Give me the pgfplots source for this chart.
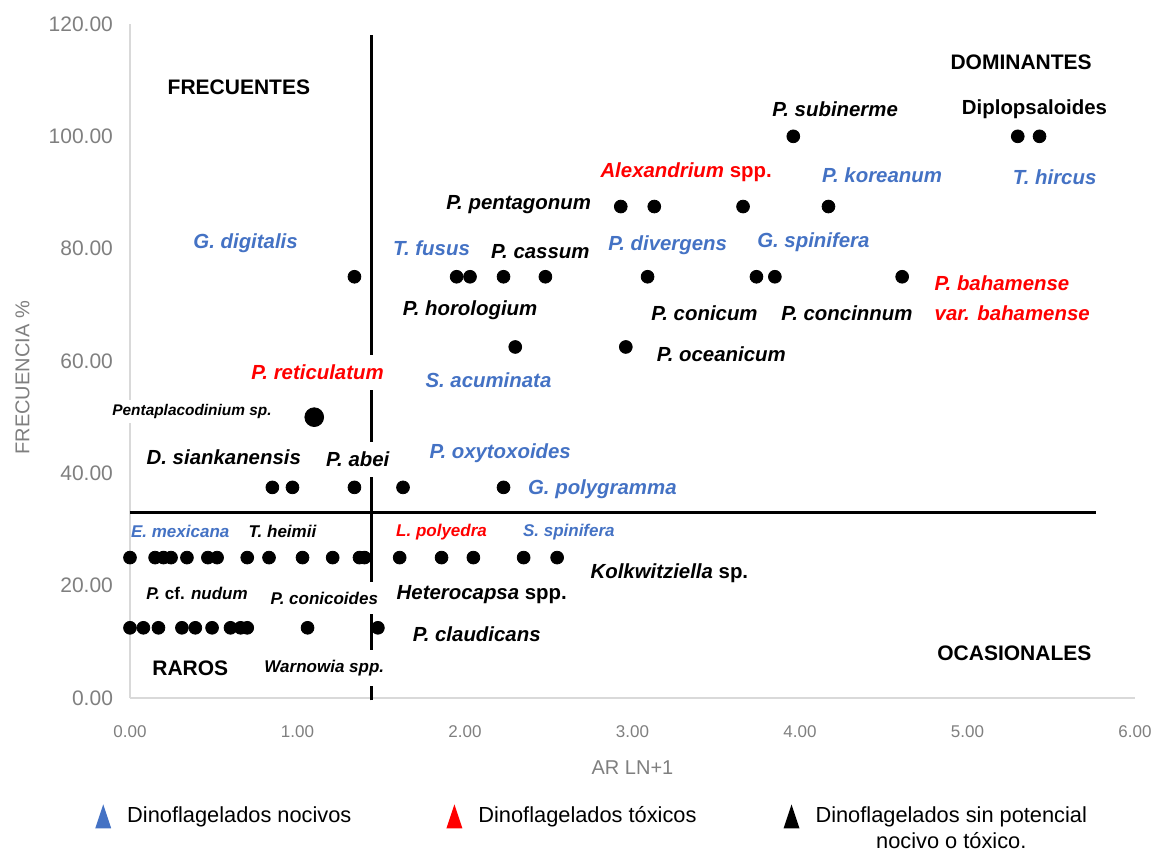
\documentclass[border=0pt]{standalone}
\usepackage{pgfplots}
\pgfplotsset{compat=1.18}
\usepackage{fontspec}
\setmainfont{Liberation Sans}

\definecolor{nocivo}{HTML}{4472C4}
\definecolor{toxico}{HTML}{FF0000}
\definecolor{ejes}{HTML}{D9D9D9}
\definecolor{rotulo}{HTML}{7F7F7F}

\tikzset{
  lab/.style={font=\fontsize{10.2}{12}\selectfont\bfseries\itshape, inner sep=1pt},
  chico/.style={font=\fontsize{8.5}{10}\selectfont\bfseries\itshape, inner sep=1pt},
  titulo/.style={font=\fontsize{10.5}{12}\selectfont\bfseries, inner sep=1pt},
  tapa/.style={fill=white, inner xsep=2pt, inner ysep=5pt},
}
% triangulo de la leyenda
\newcommand{\triang}[1]{\addlegendimage{legend image code/.code={
    \fill[#1, draw=none] (0pt,-6pt) -- (8pt,-6pt) -- (4pt,6pt) -- cycle;
    \path[draw=none, fill=none] (0pt,0pt) -- (14pt,0pt);}}}

\begin{document}
\begin{tikzpicture}
\useasboundingbox (-65pt,-77pt) rectangle (514.5pt,349pt);
\begin{axis}[
    scale only axis,
    width=502.5pt, height=337pt,
    at={(0,0)}, anchor=south west,
    xmin=0, xmax=6,
    ymin=0, ymax=120,
    xtick={0,1,2,3,4,5,6},
    ytick={0,20,40,60,80,100,120},
    axis lines=left,
    axis line style={draw=ejes, line width=0.8pt, -},
    major tick length=0pt,
    /pgf/number format/fixed,
    /pgf/number format/fixed zerofill,
    /pgf/number format/precision=2,
    /pgf/number format/assume math mode=true,
    yticklabel style={font=\fontsize{10.5}{12}\selectfont, text=rotulo, xshift=-5pt},
    xticklabel style={font=\fontsize{8.5}{10}\selectfont, text=rotulo, yshift=-10.5pt},
    xlabel={AR LN+1},
    ylabel={FRECUENCIA \%},
    every axis x label/.style={at={(axis description cs:0.5,-0.104)}, anchor=center,
        font=\fontsize{10}{12}\selectfont, text=rotulo},
    every axis y label/.style={at={(axis description cs:-0.107,0.475)}, rotate=90, anchor=center,
        font=\fontsize{10}{12}\selectfont, text=rotulo},
    clip=false,
    legend columns=3,
    legend style={at={(axis description cs:-0.035,-0.155)}, anchor=north west,
        draw=none, fill=none, inner sep=0pt,
        font=\fontsize{10.9}{13}\selectfont,
        /tikz/column 2/.style={column sep=45.5pt},
        /tikz/column 4/.style={column sep=41.5pt}},
]
% puntos
\addplot[only marks, mark=*, mark size=3.2pt, black, forget plot] coordinates {
    (3.96,100)(5.30,100)(5.43,100)
    (2.93,87.5)(3.13,87.5)(3.66,87.5)(4.17,87.5)
    (1.34,75)(1.95,75)(2.03,75)(2.23,75)(2.48,75)(3.09,75)(3.74,75)(3.85,75)(4.61,75)
    (2.30,62.5)(2.96,62.5)
    (0.85,37.5)(0.97,37.5)(1.34,37.5)(1.63,37.5)(2.23,37.5)
    (0.00,25)(0.15,25)(0.20,25)(0.245,25)(0.34,25)(0.465,25)(0.52,25)(0.70,25)(0.83,25)
    (1.03,25)(1.21,25)(1.37,25)(1.40,25)(1.61,25)(1.86,25)(2.05,25)(2.35,25)(2.55,25)
    (0.00,12.5)(0.08,12.5)(0.17,12.5)(0.31,12.5)(0.39,12.5)(0.49,12.5)(0.60,12.5)
    (0.66,12.5)(0.70,12.5)(1.06,12.5)(1.48,12.5)
};
\addplot[only marks, mark=*, mark size=4.7pt, black, forget plot] coordinates {(1.10,50)};
% cuadrantes
\addplot[black, line width=1.5pt, forget plot] coordinates {(1.44,-0.4)(1.44,118)};
\addplot[black, line width=1.5pt, forget plot] coordinates {(0,33)(5.77,33)};

% leyenda
\triang{nocivo}
\addlegendentry{Dinoflagelados nocivos}
\triang{toxico}
\addlegendentry{Dinoflagelados tóxicos}
\triang{black}
\addlegendentry{\smash{\begin{tabular}[t]{@{}c@{}}Dinoflagelados sin potencial\\nocivo o tóxico.\end{tabular}}\vphantom{Dp}}

% cuadrantes: títulos
\node[titulo] at (axis cs:0.65,108.8) {FRECUENTES};
\node[titulo] at (axis cs:5.32,113.2) {DOMINANTES};
\node[titulo] at (axis cs:5.28,8.0) {OCASIONALES};
\node[titulo, fill=white] at (axis cs:0.36,5.3) {RAROS};

% sin potencial
\node[lab] at (axis cs:4.21,104.9) {P. subinerme};
\node[lab] at (axis cs:5.40,104.9) {\upshape Diplopsaloides};
\node[lab] at (axis cs:2.32,87.8) {P. pentagonum};
\node[lab] at (axis cs:2.45,79.4) {P. cassum};
\node[lab] at (axis cs:2.03,69.1) {P. horologium};
\node[lab] at (axis cs:3.43,68.5) {P. conicum};
\node[lab] at (axis cs:4.28,68.5) {P. concinnum};
\node[lab] at (axis cs:3.53,61.2) {P. oceanicum};
\node[lab] at (axis cs:0.56,42.9) {D. siankanensis};
\node[lab, tapa] at (axis cs:1.36,42.5) {P. abei};
\node[lab] at (axis cs:3.22,22.3) {Kolkwitziella \textup{sp.}};
\node[lab] at (axis cs:2.10,18.5) {Heterocapsa \textup{spp.}};
\node[lab] at (axis cs:2.07,11.4) {P. claudicans};

% nocivos
\node[lab, text=nocivo] at (axis cs:4.49,93.1) {P. koreanum};
\node[lab, text=nocivo] at (axis cs:5.52,92.8) {T. hircus};
\node[lab, text=nocivo] at (axis cs:0.69,81.0) {G. digitalis};
\node[lab, text=nocivo] at (axis cs:1.80,80.1) {T. fusus};
\node[lab, text=nocivo] at (axis cs:3.21,80.6) {P. divergens};
\node[lab, text=nocivo] at (axis cs:4.08,81.2) {G. spinifera};
\node[lab, text=nocivo] at (axis cs:2.14,56.6) {S. acuminata};
\node[lab, text=nocivo] at (axis cs:2.21,43.6) {P. oxytoxoides};
\node[lab, text=nocivo] at (axis cs:2.82,37.2) {G. polygramma};

% tóxicos
\node[lab, text=toxico] at (axis cs:3.32,93.6) {Alexandrium \textup{spp.}};
\node[lab, text=toxico, anchor=west, align=left, font=\fontsize{10.2}{15}\selectfont\bfseries\itshape]
    at (axis cs:4.79,71.2) {P. bahamense\\var. bahamense};
\node[lab, text=toxico, tapa] at (axis cs:1.12,58.0) {P. reticulatum};

% rótulos chicos
\node[chico, text=nocivo] at (axis cs:0.30,29.6) {E. mexicana};
\node[chico] at (axis cs:0.91,29.6) {T. heimii};
\node[chico, text=toxico] at (axis cs:1.86,29.6) {L. polyedra};
\node[chico, text=nocivo] at (axis cs:2.62,29.6) {S. spinifera};
\node[chico] at (axis cs:0.40,18.7) {P. \textup{cf.} nudum};
\node[chico, tapa] at (axis cs:1.16,17.8) {P. conicoides};
\node[chico, tapa] at (axis cs:1.16,5.3) {Warnowia spp.};
\node[font=\fontsize{7.7}{9}\selectfont\bfseries\itshape, fill=white, inner sep=2pt]
    at (axis cs:0.37,51.0) {Pentaplacodinium sp.};
\end{axis}
\end{tikzpicture}
\end{document}
